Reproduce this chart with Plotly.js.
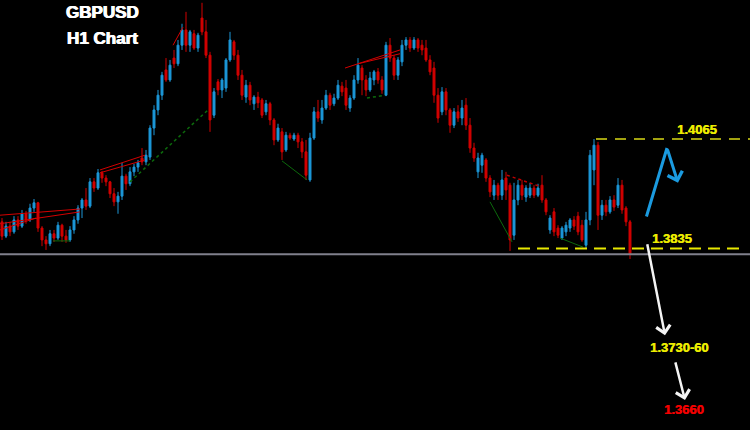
<!DOCTYPE html>
<html>
<head>
<meta charset="utf-8">
<script src="https://cdn.plot.ly/plotly-3.0.1.min.js"></script>
<style>html,body{margin:0;padding:0;background:#000;}#chart{width:750px;height:430px;}</style>
</head>
<body>
<div id="chart"></div>
<script>
// GBPUSD H1 candles (bar index)
const barOpen = [1.3891,1.3861,1.3882,1.3870,1.3895,1.3882,1.3908,1.3895,1.3920,1.3931,
1.3878,1.3853,1.3845,1.3866,1.3857,1.3884,1.3861,1.3853,1.3874,1.3895,
1.3920,1.3937,1.3924,1.3975,1.3962,1.3994,1.3983,1.3975,1.3950,1.3933,
1.3945,1.3987,1.3971,1.3996,1.4006,1.4025,1.4017,1.4027,1.4088,1.4126,
1.4157,1.4210,1.4189,1.4235,1.4223,1.4262,1.4294,1.4262,1.4286,1.4256,
1.4319,1.4290,1.4241,1.4115,1.4185,1.4168,1.4172,1.4231,1.4269,1.4241,
1.4199,1.4153,1.4178,1.4139,1.4153,1.4147,1.4122,1.4139,1.4105,1.4063,
1.4080,1.4042,1.4073,1.4065,1.4073,1.4059,1.4038,1.3979,1.4067,1.4122,
1.4105,1.4130,1.4157,1.4139,1.4151,1.4176,1.4172,1.4130,1.4151,1.4189,
1.4214,1.4189,1.4168,1.4189,1.4206,1.4189,1.4157,1.4262,1.4235,1.4199,
1.4227,1.4262,1.4273,1.4256,1.4273,1.4262,1.4256,1.4231,1.4214,1.4157,
1.4122,1.4164,1.4126,1.4094,1.4122,1.4109,1.4136,1.4094,1.4046,1.3996,
1.4010,1.4021,1.3983,1.3947,1.3968,1.3947,1.3983,1.3968,1.3863,1.3937,
1.3968,1.3943,1.3947,1.3962,1.3947,1.3968,1.3937,1.3874,1.3912,1.3878,
1.3857,1.3870,1.3878,1.3895,1.3903,1.3884,1.3842,1.3895,1.4000,1.4052,
1.3905,1.3926,1.3912,1.3937,1.3926,1.3968,1.3920,1.3891];
const barHigh = [1.3899,1.3891,1.3891,1.3903,1.3903,1.3916,1.3914,1.3929,1.3939,1.3933,
1.3882,1.3861,1.3874,1.3874,1.3891,1.3887,1.3874,1.3882,1.3903,1.3926,
1.3941,1.3962,1.3983,1.3983,1.4002,1.3998,1.3989,1.3977,1.3962,1.3954,
1.4015,1.3992,1.4006,1.4013,1.4021,1.4046,1.4042,1.4094,1.4136,1.4168,
1.4206,1.4235,1.4231,1.4252,1.4273,1.4307,1.4332,1.4294,1.4294,1.4288,
1.4351,1.4315,1.4248,1.4172,1.4191,1.4193,1.4235,1.4290,1.4273,1.4252,
1.4210,1.4189,1.4185,1.4157,1.4164,1.4151,1.4147,1.4143,1.4109,1.4097,
1.4088,1.4080,1.4078,1.4078,1.4078,1.4067,1.4063,1.4078,1.4132,1.4147,
1.4147,1.4168,1.4162,1.4160,1.4189,1.4185,1.4189,1.4157,1.4199,1.4235,
1.4220,1.4199,1.4206,1.4210,1.4214,1.4197,1.4269,1.4277,1.4241,1.4237,
1.4273,1.4279,1.4279,1.4279,1.4277,1.4273,1.4273,1.4241,1.4227,1.4172,
1.4174,1.4172,1.4130,1.4130,1.4136,1.4147,1.4151,1.4109,1.4057,1.4036,
1.4036,1.4025,1.3989,1.3979,1.3973,1.4000,1.3996,1.3973,1.3973,1.3979,
1.3979,1.3968,1.3973,1.3968,1.3971,1.3989,1.3941,1.3905,1.3920,1.3884,
1.3882,1.3891,1.3899,1.3903,1.3912,1.3895,1.3912,1.4042,1.4065,1.4059,
1.3937,1.3937,1.3945,1.3947,1.3983,1.3979,1.3924,1.3895];
const barLow = [1.3853,1.3857,1.3861,1.3866,1.3874,1.3878,1.3887,1.3891,1.3912,1.3870,
1.3840,1.3832,1.3840,1.3849,1.3853,1.3849,1.3847,1.3849,1.3866,1.3887,
1.3899,1.3916,1.3920,1.3954,1.3958,1.3973,1.3966,1.3941,1.3924,1.3908,
1.3937,1.3958,1.3966,1.3987,1.3996,1.4010,1.4010,1.4021,1.4073,1.4115,
1.4147,1.4185,1.4185,1.4214,1.4218,1.4252,1.4248,1.4248,1.4252,1.4248,
1.4283,1.4235,1.4080,1.4109,1.4157,1.4151,1.4164,1.4227,1.4231,1.4189,
1.4147,1.4141,1.4136,1.4126,1.4130,1.4109,1.4115,1.4094,1.4052,1.4059,
1.4021,1.4038,1.4063,1.4061,1.4046,1.4025,1.3979,1.3975,1.4063,1.4101,
1.4097,1.4126,1.4126,1.4134,1.4147,1.4155,1.4126,1.4122,1.4147,1.4181,
1.4157,1.4155,1.4164,1.4178,1.4181,1.4160,1.4155,1.4227,1.4189,1.4189,
1.4218,1.4252,1.4248,1.4252,1.4248,1.4241,1.4227,1.4199,1.4141,1.4099,
1.4115,1.4115,1.4078,1.4088,1.4101,1.4094,1.4084,1.4036,1.4017,1.3983,
1.3994,1.3975,1.3943,1.3937,1.3937,1.3937,1.3937,1.3830,1.3853,1.3926,
1.3937,1.3933,1.3941,1.3941,1.3943,1.3931,1.3905,1.3866,1.3861,1.3857,
1.3853,1.3861,1.3870,1.3874,1.3863,1.3849,1.3836,1.3884,1.3968,1.3874,
1.3895,1.3903,1.3908,1.3914,1.3920,1.3908,1.3882,1.3813];
const barClose = [1.3861,1.3882,1.3870,1.3895,1.3882,1.3908,1.3895,1.3920,1.3931,1.3878,
1.3853,1.3845,1.3866,1.3857,1.3884,1.3861,1.3853,1.3874,1.3895,1.3920,
1.3937,1.3924,1.3975,1.3962,1.3994,1.3983,1.3975,1.3950,1.3933,1.3945,
1.3987,1.3971,1.3996,1.4006,1.4015,1.4017,1.4031,1.4088,1.4126,1.4157,
1.4199,1.4189,1.4220,1.4223,1.4262,1.4294,1.4262,1.4290,1.4256,1.4283,
1.4290,1.4241,1.4105,1.4164,1.4168,1.4189,1.4231,1.4273,1.4241,1.4199,
1.4157,1.4178,1.4147,1.4153,1.4141,1.4115,1.4139,1.4105,1.4063,1.4088,
1.4038,1.4073,1.4067,1.4073,1.4059,1.4038,1.3989,1.4067,1.4122,1.4109,
1.4130,1.4157,1.4136,1.4151,1.4178,1.4164,1.4136,1.4151,1.4189,1.4220,
1.4189,1.4168,1.4193,1.4206,1.4189,1.4168,1.4262,1.4235,1.4199,1.4231,
1.4262,1.4273,1.4256,1.4273,1.4256,1.4252,1.4231,1.4206,1.4157,1.4109,
1.4164,1.4126,1.4094,1.4122,1.4109,1.4130,1.4094,1.4046,1.4025,1.4025,
1.4031,1.3983,1.3954,1.3968,1.3947,1.3979,1.3958,1.3853,1.3937,1.3968,
1.3947,1.3962,1.3962,1.3947,1.3962,1.3937,1.3912,1.3899,1.3870,1.3863,
1.3878,1.3884,1.3895,1.3882,1.3870,1.3853,1.3895,1.4031,1.4052,1.3905,
1.3926,1.3912,1.3937,1.3922,1.3968,1.3916,1.3891,1.3824];
const barIndex = barClose.map((_, i) => i);

// Indicator lines: [x0, x1, price0, price1]
const redTrendLines = [[-0.5,19.5,1.3905,1.3918],[-0.5,19.5,1.3887,1.3912],[-0.5,8.5,1.3874,1.3899],
  [24.5,35.75,1.4000,1.4031],[24.5,35.75,1.3994,1.4021],[42.75,45.25,1.4262,1.4300],
  [85.75,99.5,1.4214,1.4252],[89,99.5,1.4223,1.4244]];
const redDottedLines = [[126.25,135,1.3989,1.3964]];
const greenSolidLines = [[12.75,17,1.3851,1.3851],[70,76.25,1.4019,1.3979],
  [122,127.5,1.3933,1.3849],[139.5,145.25,1.3857,1.3838]];
const greenDottedLines = [[32,51.5,1.3975,1.4126],[91.25,95.75,1.4151,1.4157]];

// Key levels
const resistanceLevel = 1.4065;
const supportLevel = 1.3835;
const currentLine = 1.3823;
const labelTexts = ['1.4065','1.3835','1.3730-60','1.3660'];

const font = 'Liberation Sans, Arial, sans-serif';
const traces = [{
  type: 'candlestick', x: barIndex, open: barOpen, high: barHigh, low: barLow, close: barClose,
  increasing: {line: {color: '#1c97d8', width: 1}, fillcolor: '#1c97d8'},
  decreasing: {line: {color: '#d20000', width: 1}, fillcolor: '#d20000'},
  whiskerwidth: 0, hoverinfo: 'skip', showlegend: false
}];
function addSegs(segs, color, dash, width) {
  segs.forEach(s => traces.push({type: 'scatter', mode: 'lines', x: [s[0], s[1]], y: [s[2], s[3]],
    line: {color: color, width: width, dash: dash}, hoverinfo: 'skip', showlegend: false}));
}
addSegs(redTrendLines, '#d40000', 'solid', 1);
addSegs(redDottedLines, '#c00000', 'dot', 1.5);
addSegs(greenSolidLines, '#0c6a0c', 'solid', 1);
addSegs(greenDottedLines, '#0c6a0c', 'dot', 1.5);
addSegs([[-0.5,187,currentLine,currentLine]], '#80808c', 'solid', 2);
addSegs([[148.5,187,resistanceLevel,resistanceLevel]], '#a3a310', '11px,8px', 2);
addSegs([[129,185.75,supportLevel,supportLevel]], '#e8e800', '12px,7px', 2);

const whiteFont = {family: font, size: 17, color: '#ffffff', shadow: '0.6px 0 0 #ffffff, -0.4px 0 0 #ffffff'};
const yellowFont = {family: font, size: 13, color: '#ecec00', shadow: '0.5px 0 0 #ecec00'};
const redFont = {family: font, size: 13, color: '#f20000', shadow: '0.5px 0 0 #f20000'};
const arrowBase = {xref: 'x', yref: 'y', axref: 'x', ayref: 'y', text: '', showarrow: true, standoff: 0};
const annotations = [
  {xref: 'paper', yref: 'paper', x: 0.1373, y: 0.972, xanchor: 'center', yanchor: 'middle', showarrow: false,
   text: '<b>GBPUSD</b>', font: whiteFont},
  {xref: 'paper', yref: 'paper', x: 0.136, y: 0.9116, xanchor: 'center', yanchor: 'middle', showarrow: false,
   text: '<b>H1 Chart</b>', font: whiteFont},
  {xref: 'x', yref: 'y', x: 173.75, y: 1.4084, showarrow: false, xanchor: 'center', yanchor: 'middle',
   text: '<b>' + labelTexts[0] + '</b>', font: yellowFont},
  {xref: 'x', yref: 'y', x: 167.5, y: 1.3856, showarrow: false, xanchor: 'center', yanchor: 'middle',
   text: '<b>' + labelTexts[1] + '</b>', font: yellowFont},
  {xref: 'x', yref: 'y', x: 169.25, y: 1.3627, showarrow: false, xanchor: 'center', yanchor: 'middle',
   text: '<b>' + labelTexts[2] + '</b>', font: yellowFont},
  {xref: 'x', yref: 'y', x: 170.4, y: 1.3496, showarrow: false, xanchor: 'center', yanchor: 'middle',
   text: '<b>' + labelTexts[3] + '</b>', font: redFont},
  Object.assign({}, arrowBase, {x: 166.25, y: 1.4046, ax: 161, ay: 1.3899, arrowhead: 0, arrowwidth: 3, arrowcolor: '#1b9be0'}),
  Object.assign({}, arrowBase, {x: 169, y: 1.3973, ax: 166.25, ay: 1.4046, arrowhead: 4, arrowsize: 1, arrowwidth: 3, arrowcolor: '#1b9be0'}),
  Object.assign({}, arrowBase, {x: 165.75, y: 1.3653, ax: 161.25, ay: 1.3847, arrowhead: 4, arrowsize: 1.1, arrowwidth: 2.5, arrowcolor: '#f4f4f4'}),
  Object.assign({}, arrowBase, {x: 170.75, y: 1.3517, ax: 168.25, ay: 1.3599, arrowhead: 4, arrowsize: 1.1, arrowwidth: 2.5, arrowcolor: '#f4f4f4'})
];

const layout = {
  width: 750, height: 430, margin: {l: 0, r: 0, t: 0, b: 0},
  paper_bgcolor: '#000000', plot_bgcolor: '#000000', showlegend: false, boxgap: 0.3,
  xaxis: {range: [-0.5, 187], showgrid: false, zeroline: false, showticklabels: false, ticks: '',
          showline: false, rangeslider: {visible: false}, fixedrange: true},
  yaxis: {range: [1.34539, 1.43569], showgrid: false, zeroline: false, showticklabels: false, ticks: '',
          showline: false, fixedrange: true},
  annotations: annotations
};
Plotly.newPlot('chart', traces, layout, {staticPlot: true, displayModeBar: false});
</script>
</body>
</html>
